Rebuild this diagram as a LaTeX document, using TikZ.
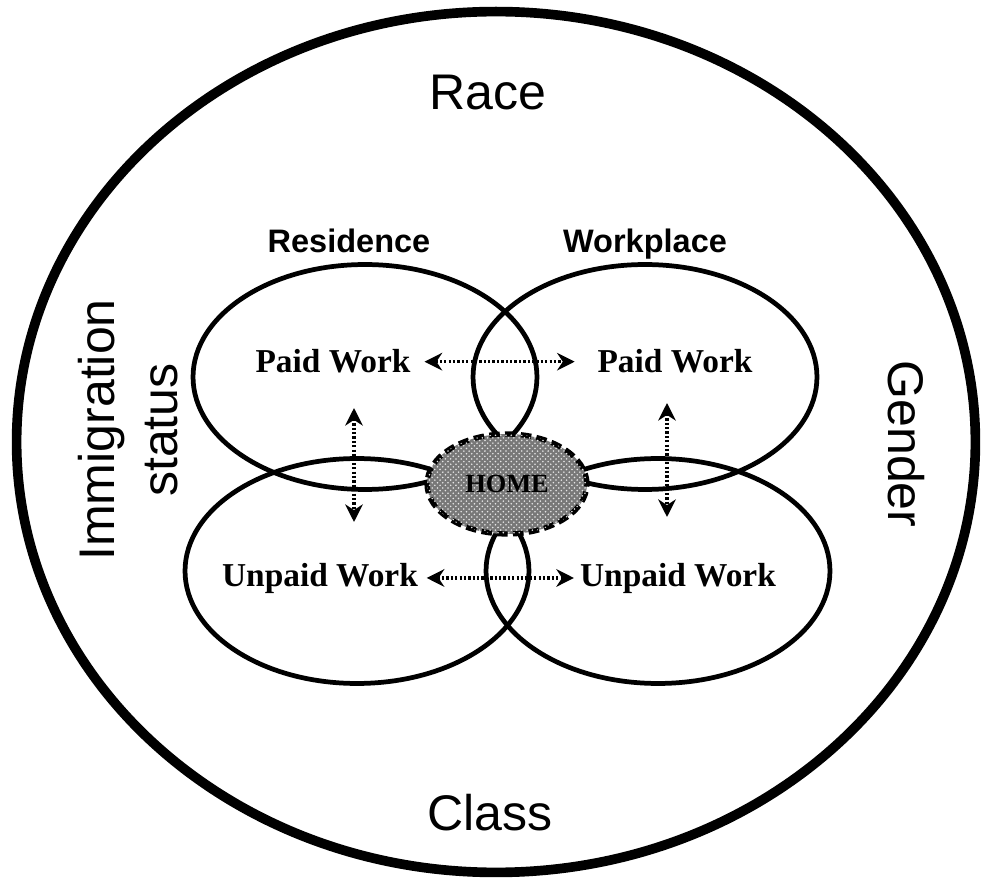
\documentclass[tikz,border=0pt]{standalone}
\usepackage{fontspec}
\setmainfont{Liberation Serif}
\setsansfont{Liberation Sans}
\usepackage{tikz}
\usetikzlibrary{shapes,arrows,positioning,calc,arrows.meta,patterns}
\usepackage{xcolor}
\definecolor{homegray}{RGB}{120,120,120}

\begin{document}
\begin{tikzpicture}[x=0.02cm,y=-0.02cm,
  sphere/.style={draw,ellipse,line width=2.7pt,inner sep=0pt,
                 minimum width=6.88cm,minimum height=4.5cm},
  ctx/.style={font=\sffamily\fontsize{28.5}{36}\selectfont},
  site/.style={font=\sffamily\bfseries\fontsize{18.5}{22}\selectfont,anchor=base},
  work/.style={font=\bfseries\fontsize{19}{22}\selectfont,anchor=base},
  homeblob/.style={draw,ellipse,fill=homegray,line width=3pt,
                   dash pattern=on 6pt off 3pt,inner sep=0pt,
                   minimum width=3.2cm,minimum height=2cm,
                   font=\bfseries\fontsize{15}{17}\selectfont,
                   postaction={pattern=crosshatch dots,pattern color=white!80!gray}},
  flow/.style={line width=1.9pt,dash pattern=on 1.3pt off 1.2pt,
               {Stealth[length=10pt,width=10pt]}-{Stealth[length=10pt,width=10pt]}}]
  \useasboundingbox (0,0) rectangle (981,878);
  % circulo externo
  \node[draw,ellipse,line width=5.5pt,minimum width=19.18cm,minimum height=17.22cm]
    (context) at (496,442) {};
  % esferas
  \node[sphere] (resTop) at (365,377) {};
  \node[sphere] (workTop) at (645,377) {};
  \node[sphere] (resBot) at (357,571) {};
  \node[sphere] (workBot) at (658,571) {};
  % casa
  \node[homeblob] (home) at (507,484) {HOME};
  % eixos
  \node[ctx,anchor=base] (race) at (488,110) {Race};
  \node[ctx,anchor=base] (class) at (490,830) {Class};
  \node[ctx,align=center,rotate=90] (immig) at (128,430) {Immigration\\status};
  \node[ctx,rotate=-90] (gender) at (906,444) {Gender};
  % rotulos
  \node[site] (residence) at (349,253) {Residence};
  \node[site] (workplace) at (645,253) {Workplace};
  \node[work] (paidR) at (333,373) {Paid Work};
  \node[work] (paidW) at (675,373) {Paid Work};
  \node[work] (unpaidR) at (320,586) {Unpaid Work};
  \node[work] (unpaidW) at (678,586) {Unpaid Work};
  % setas
  \coordinate (vR1) at (354,408);
  \coordinate (vR2) at (354,522);
  \coordinate (vW1) at (667,403);
  \coordinate (vW2) at (667,517);
  \draw[flow,shorten <=4.5pt,shorten >=9.5pt] (paidR.east) -- (paidW.west);
  \draw[flow,shorten <=1.5pt] (unpaidR.east) -- (unpaidW.west);
  \draw[flow] (vR1) -- (vR2);
  \draw[flow] (vW1) -- (vW2);
\end{tikzpicture}
\end{document}
